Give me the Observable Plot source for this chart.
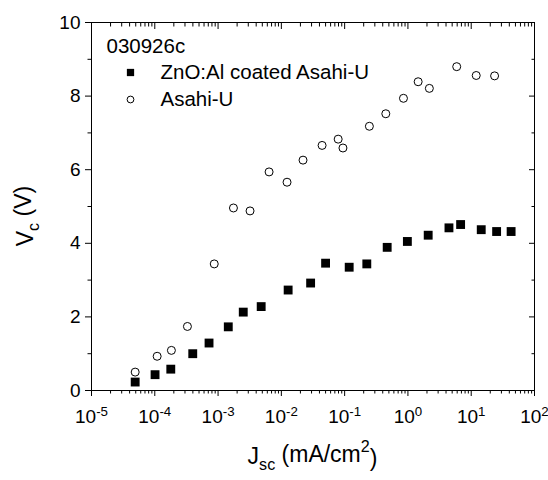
<!DOCTYPE html>
<html><head><meta charset="utf-8">
<script src="https://cdn.jsdelivr.net/npm/d3@7"></script>
<script src="https://cdn.jsdelivr.net/npm/@observablehq/plot@0.6"></script>
<style>body{margin:0;background:#fff;font-family:"Liberation Sans",Arial,sans-serif}</style>
</head><body><div id="chart"></div>
<script>
const sampleLabel = "030926c";
const seriesNames = ["ZnO:Al coated Asahi-U", "Asahi-U"];
const znoJsc = [4.9e-5, 1.01e-4, 1.79e-4, 3.98e-4, 7.2e-4, 1.45e-3, 2.5e-3, 4.8e-3, 1.28e-2, 2.9e-2, 5.0e-2, 0.118, 0.224, 0.47, 0.98, 2.09, 4.45, 6.8, 14.4, 25.2, 42.7];
const znoVc  = [0.23, 0.43, 0.58, 1.00, 1.29, 1.73, 2.13, 2.28, 2.73, 2.92, 3.46, 3.35, 3.44, 3.89, 4.05, 4.22, 4.42, 4.51, 4.37, 4.32, 4.32];
const asahiJsc = [4.9e-5, 1.09e-4, 1.83e-4, 3.28e-4, 8.7e-4, 1.75e-3, 3.2e-3, 6.4e-3, 1.23e-2, 2.2e-2, 4.4e-2, 7.9e-2, 9.4e-2, 0.246, 0.447, 0.85, 1.45, 2.18, 5.9, 12.0, 23.4];
const asahiVc  = [0.50, 0.93, 1.09, 1.74, 3.44, 4.96, 4.88, 5.94, 5.66, 6.26, 6.66, 6.83, 6.59, 7.18, 7.52, 7.94, 8.39, 8.21, 8.80, 8.56, 8.55];
const xTickExponents = [-5, -4, -3, -2, -1, 0, 1, 2];
const yTicks = [0, 2, 4, 6, 8, 10];
const yMinorTicks = [1, 3, 5, 7, 9];
const xTitle = {main: "J", sub: "sc", rest: " (mA/cm", sup: "2", end: ")"};
const yTitle = {main: "V", sub: "c", rest: " (V)"};

const xMajor = xTickExponents.map(e => Math.pow(10, e));
const xMinor = [];
for (const e of xTickExponents.slice(0, -1)) for (let m = 2; m <= 9; m++) xMinor.push(m * Math.pow(10, e));

const zno = znoJsc.map((x, i) => ({x, y: znoVc[i]}));
const asahi = asahiJsc.map((x, i) => ({x, y: asahiVc[i]}));

const blank = () => "";
const LF = 20.5;
const plot = Plot.plot({
  width: 548, height: 480,
  marginLeft: 91, marginRight: 14, marginTop: 22, marginBottom: 90,
  style: {fontFamily: '"Liberation Sans", Arial, sans-serif', fontSize: "19px", color: "black", background: "white"},
  x: {type: "log", domain: [1e-5, 1e2]},
  y: {domain: [0, 10]},
  marks: [
    Plot.frame({stroke: "black", strokeWidth: 1}),
    Plot.axisX({anchor: "bottom", ticks: xMajor, tickSize: 6, tickPadding: 13, tickFormat: d => String(Math.round(Math.log10(d))), label: null, fontSize: 19}),
    Plot.axisX({anchor: "bottom", ticks: xMinor, tickSize: 3.5, tickFormat: blank, label: null}),
    Plot.axisX({anchor: "top", ticks: xMajor, tickSize: 6, dy: 6, tickFormat: blank, label: null}),
    Plot.axisX({anchor: "top", ticks: xMinor, tickSize: 3.5, dy: 3.5, tickFormat: blank, label: null}),
    Plot.axisY({anchor: "left", ticks: yTicks, tickSize: 6, tickPadding: 5, tickFormat: d => String(d), label: null, fontSize: 19}),
    Plot.axisY({anchor: "left", ticks: yMinorTicks, tickSize: 3.5, tickFormat: blank, label: null}),
    Plot.axisY({anchor: "right", ticks: yTicks, tickSize: 6, dx: -6, tickFormat: blank, label: null}),
    Plot.axisY({anchor: "right", ticks: yMinorTicks, tickSize: 3.5, dx: -3.5, tickFormat: blank, label: null}),
    Plot.dot(asahi, {x: "x", y: "y", r: 4, stroke: "black", strokeWidth: 1, fill: "white"}),
    Plot.dot(zno, {x: "x", y: "y", symbol: "square", r: 5, fill: "black", stroke: "none"}),
    Plot.text([sampleLabel], {frameAnchor: "top-left", dx: 15, dy: 24.4, lineAnchor: "middle", text: d => d, textAnchor: "start", fontSize: LF, fill: "black"}),
    Plot.dot([seriesNames[0]], {frameAnchor: "top-left", dx: 39, dy: 50, symbol: "square", r: 4.1, fill: "black", stroke: "none"}),
    Plot.text([seriesNames[0]], {frameAnchor: "top-left", dx: 69, dy: 50.4, lineAnchor: "middle", text: d => d, textAnchor: "start", fontSize: LF, fill: "black"}),
    Plot.dot([seriesNames[1]], {frameAnchor: "top-left", dx: 39, dy: 77, r: 3.4, stroke: "black", strokeWidth: 1, fill: "white"}),
    Plot.text([seriesNames[1]], {frameAnchor: "top-left", dx: 69, dy: 77, lineAnchor: "middle", text: d => d, textAnchor: "start", fontSize: LF, fill: "black"})
  ]
});

d3.select(plot).selectAll('g[aria-label="x-axis tick label"] text').each(function() {
  const t = this.textContent;
  if (!t) return;
  const sel = d3.select(this);
  sel.text(null);
  sel.append("tspan").text("10");
  sel.append("tspan").attr("dy", "-0.55em").attr("font-size", "70%").text(t);
});

const xs = plot.scale("x").range, ys = plot.scale("y").range;
const svg = d3.select(plot);
const xt = svg.append("text")
  .attr("x", (xs[0] + xs[1]) / 2).attr("y", 464)
  .attr("text-anchor", "middle").attr("font-size", 23).attr("fill", "black");
xt.append("tspan").text(xTitle.main);
xt.append("tspan").attr("font-size", "70%").attr("dy", "0.35em").text(xTitle.sub);
xt.append("tspan").attr("dy", "-0.35em").text(xTitle.rest);
xt.append("tspan").attr("font-size", "70%").attr("dy", "-0.6em").text(xTitle.sup);
xt.append("tspan").attr("dy", "0.6em").text(xTitle.end);

const yt = svg.append("text")
  .attr("transform", `translate(33,${(ys[0] + ys[1]) / 2 + 10}) rotate(-90)`)
  .attr("text-anchor", "middle").attr("font-size", 23).attr("fill", "black");
yt.append("tspan").text(yTitle.main);
yt.append("tspan").attr("font-size", "70%").attr("dy", "0.35em").text(yTitle.sub);
yt.append("tspan").attr("dy", "-0.35em").text(yTitle.rest);

document.getElementById("chart").appendChild(plot);
</script>
</body></html>
